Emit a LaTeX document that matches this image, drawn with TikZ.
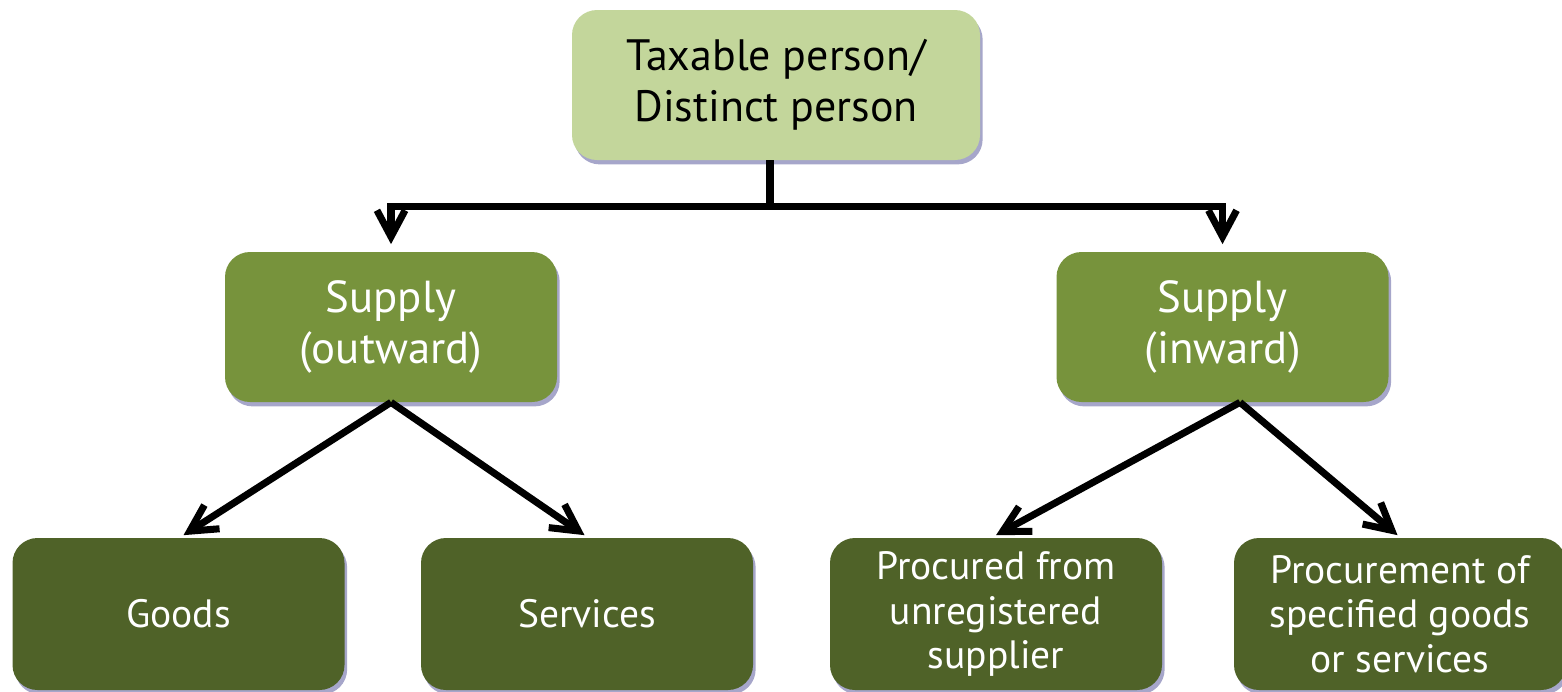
\documentclass[tikz,border=0pt]{standalone}
\usepackage{fontspec}
\setmainfont{PT Sans}
\usepackage{xcolor}
\usepackage{tikz}
\usetikzlibrary{arrows.meta,calc,positioning,shadows}
\definecolor{verdeclaro}{HTML}{C3D69B}
\definecolor{verdemedio}{HTML}{77933C}
\definecolor{verdeoscuro}{HTML}{4F6228}
\tikzset{
  caja/.style={rounded corners=0.5cm,align=center,inner sep=0pt,
    drop shadow={shadow xshift=1.5pt,shadow yshift=-2.5pt,opacity=0.35,fill=blue!40!black}},
  raiz/.style={caja,fill=verdeclaro,text=black,minimum width=8.16cm,minimum height=3cm,
    font=\fontsize{25}{29}\selectfont},
  rama/.style={caja,fill=verdemedio,text=white,minimum width=6.64cm,minimum height=3cm,
    font=\fontsize{25.5}{29}\selectfont},
  hoja/.style={caja,fill=verdeoscuro,text=white,minimum width=6.64cm,minimum height=3.04cm,
    font=\fontsize{22.5}{25.3}\selectfont},
  linea/.style={line width=4pt,black},
  flecha/.style={linea,-{Straight Barb[length=15pt,width=16pt,line width=4pt]}}
}

\begin{document}
\begin{tikzpicture}
\useasboundingbox (0,0) rectangle (31.24,-13.82);
% raiz
\node[raiz] (persona) at (15.52,-1.7) {Taxable person/\\Distinct person};
% ramas
\node[rama] (salida) at (7.82,-6.54) {Supply\\(outward)};
\node[rama] (entrada) at (24.45,-6.54) {Supply\\(inward)};
% hojas
\node[hoja] (bienes) at (3.57,-12.28) {Goods};
\node[hoja] (servicios) at (11.74,-12.28) {Services};
\node[hoja] (noreg) at (19.92,-12.28) {Procured from\\unregistered\\supplier};
\node[hoja] (especif) at (28.0,-12.28) {Procurement of\\specified goods\\or services};
% conectores
\draw[linea] ([xshift=-0.12cm]persona.south) -- ++(0,-0.92) coordinate (nudo);
\draw[flecha] (nudo) -| ([yshift=0.15cm]salida.north);
\draw[flecha] (nudo) -| ([yshift=0.15cm]entrada.north);
\draw[flecha] (salida.south) -- ([xshift=0.1cm,yshift=0.05cm]bienes.north);
\draw[flecha] (salida.south) -- ([xshift=-0.05cm,yshift=0.05cm]servicios.north);
\draw[flecha] ([xshift=0.35cm]entrada.south) -- ([yshift=0.05cm]noreg.north);
\draw[flecha] ([xshift=0.35cm]entrada.south) -- ([xshift=-0.05cm,yshift=0.05cm]especif.north);
\end{tikzpicture}
\end{document}
